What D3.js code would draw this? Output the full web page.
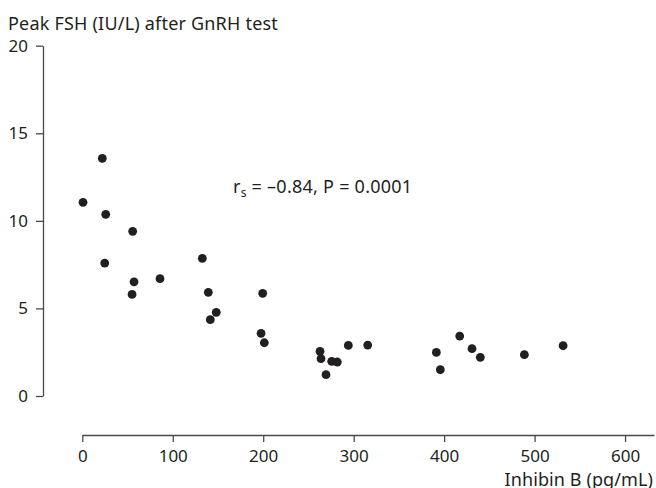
<!DOCTYPE html>
<html>
<head>
<meta charset="utf-8">
<script src="https://cdn.jsdelivr.net/npm/d3@7"></script>
<style>
  html, body { margin: 0; padding: 0; background: #fff; }
  svg text { font-family: "Noto Sans", "Open Sans", sans-serif; fill: #231f20; }
</style>
</head>
<body>
<svg id="chart" width="656" height="488"></svg>
<script>
// Inhibin B (pg/mL) for each subject
const inhibinB = [0.8, 22.1, 25.9, 24.8, 55.7, 57.2, 55.0, 85.9, 132.7, 139.3,
  148.1, 141.5, 199.4, 197.6, 201.2, 262.8, 263.9, 269.4, 275.7, 281.9,
  294.1, 315.5, 391.4, 395.8, 417.2, 430.8, 440.0, 488.7, 531.5];
// Peak FSH (IU/L) after GnRH test for the same subjects
const peakFSH = [11.06, 13.57, 10.37, 7.59, 9.40, 6.52, 5.80, 6.70, 7.86, 5.92,
  4.78, 4.36, 5.86, 3.58, 3.04, 2.55, 2.13, 1.22, 1.98, 1.94,
  2.89, 2.91, 2.49, 1.50, 3.42, 2.70, 2.21, 2.36, 2.87];

const xTicks = [0, 100, 200, 300, 400, 500, 600];
const yTicks = [0, 5, 10, 15, 20];

const yLabel = "Peak FSH (IU/L) after GnRH test";
const xLabel = "Inhibin B (pg/mL)";
const statText = { r: "r", sub: "s", rest: " = \u20130.84, P = 0.0001" };

const svg = d3.select("#chart");
const ink = "#231f20";
const axisInk = "#4a4a4c";

const x = d3.scaleLinear().domain([0, 632]).range([82.3, 654]);
const y = d3.scaleLinear().domain([0, 20]).range([396, 45.7]);

// Y axis: ticks pointing left
const yAxis = svg.append("g")
  .attr("transform", "translate(43,0)")
  .call(d3.axisLeft(y).tickValues(yTicks).tickSize(7).tickPadding(8).tickSizeOuter(0));
yAxis.select(".domain").attr("stroke", axisInk).attr("stroke-width", 1.3);
yAxis.selectAll(".tick line").attr("stroke", axisInk).attr("stroke-width", 1.3);
yAxis.selectAll(".tick text").attr("font-size", 17).attr("fill", ink)
  .style("font-family", '"Noto Sans", sans-serif');

// X axis: ticks pointing down, line runs past the last tick
const xAxis = svg.append("g")
  .attr("transform", "translate(0,435)")
  .call(d3.axisBottom(x).tickValues(xTicks).tickSize(7).tickPadding(8).tickSizeOuter(0));
xAxis.select(".domain").attr("stroke", axisInk).attr("stroke-width", 1.3);
xAxis.selectAll(".tick line").attr("stroke", axisInk).attr("stroke-width", 1.3);
xAxis.selectAll(".tick text").attr("font-size", 17).attr("fill", ink)
  .style("font-family", '"Noto Sans", sans-serif');

// Axis titles
svg.append("text")
  .attr("x", 8).attr("y", 30)
  .attr("font-size", 18)
  .attr("letter-spacing", 0.2)
  .text(yLabel);

svg.append("text")
  .attr("x", 653).attr("y", 486)
  .attr("text-anchor", "end")
  .attr("font-size", 18)
  .attr("letter-spacing", 0.1)
  .text(xLabel);

// Spearman correlation note
const note = svg.append("text")
  .attr("x", 233).attr("y", 193)
  .attr("font-size", 18)
  .attr("letter-spacing", 0.25);
note.append("tspan").text(statText.r);
note.append("tspan").attr("font-size", 12).attr("dy", 4).text(statText.sub);
note.append("tspan").attr("dy", -4).text(statText.rest);

// Data points
svg.append("g")
  .selectAll("circle")
  .data(inhibinB.map((v, i) => ({ x: v, y: peakFSH[i] })))
  .join("circle")
  .attr("cx", d => x(d.x))
  .attr("cy", d => y(d.y))
  .attr("r", 4.4)
  .attr("fill", ink);
</script>
</body>
</html>
